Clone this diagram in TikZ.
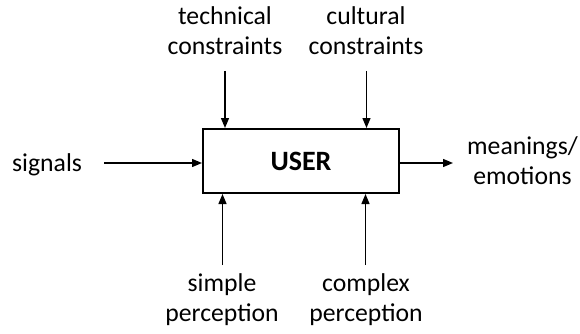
\documentclass[tikz,border=0pt]{standalone}
\usepackage{fontspec}
\setmainfont{Carlito}
\usetikzlibrary{arrows.meta}
\begin{document}
\begin{tikzpicture}[x=1pt,y=-1pt,
  lbl/.style={font=\fontsize{25.7}{30}\selectfont, align=center, inner sep=0pt},
  arr/.style={line width=1.3pt, -{Triangle[length=10pt,width=8pt]}},
  userbox/.style={draw, line width=2pt, minimum width=196pt, minimum height=64pt, inner sep=0pt,
    font=\fontsize{28}{30}\selectfont\bfseries}]
\useasboundingbox (0,0) rectangle (580,334);
\node[userbox] (user) at (301,161) {USER};
\node[lbl, anchor=south] (tech) at (225,55) {technical\\constraints};
\node[lbl, anchor=south] (cult) at (366,55) {cultural\\constraints};
\node[lbl, anchor=base west] (sig) at (12,171) {signals};
\node[lbl, anchor=west] (mean) at (467,160.5) {meanings/\\emotions};
\node[lbl, anchor=north] (simp) at (222,273) {simple\\perception};
\node[lbl, anchor=north] (comp) at (366,273) {complex\\perception};
\coordinate (t1) at (225,71);
\coordinate (t2) at (366.5,71);
\coordinate (b1) at (222.5,265);
\coordinate (b2) at (365.5,265);
\coordinate (s1) at (104,163);
\coordinate (m1) at (453,163);
\draw[arr] (t1) -- (t1 |- user.north);
\draw[arr] (t2) -- (t2 |- user.north);
\draw[arr] (b1) -- (b1 |- user.south);
\draw[arr] (b2) -- (b2 |- user.south);
\draw[arr] (s1) -- (s1 -| user.west);
\draw[arr] (s1 -| user.east) -- (m1);
\end{tikzpicture}
\end{document}
